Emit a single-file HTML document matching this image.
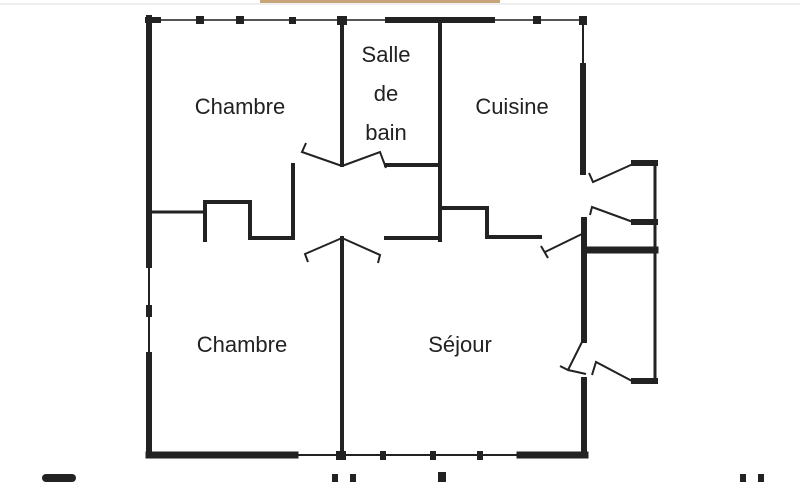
<!DOCTYPE html>
<html><head><meta charset="utf-8"><style>
body{margin:0;background:#fff;width:800px;height:482px;overflow:hidden}
svg{display:block}
text{font-family:"Liberation Sans",sans-serif;fill:#222;font-size:22px;text-anchor:middle}
</style></head><body>
<svg width="800" height="482" viewBox="0 0 800 482">
<rect x="260" y="0" width="240" height="3" fill="#c9a47a"/>
<line x1="0" y1="4" x2="800" y2="4" stroke="#ddd" stroke-width="1"/>
<g stroke="#222" fill="none" stroke-linecap="square">
<!-- top thin -->
<line x1="148" y1="20" x2="583" y2="20" stroke-width="2" stroke="#555"/>
<line x1="388" y1="20" x2="492" y2="20" stroke-width="6"/>
<line x1="148" y1="20" x2="158" y2="20" stroke-width="6"/>
<!-- left wall -->
<line x1="149" y1="18" x2="149" y2="265" stroke-width="6"/>
<line x1="149" y1="265" x2="149" y2="355" stroke-width="2"/>
<line x1="149" y1="355" x2="149" y2="455" stroke-width="6"/>
<!-- bottom -->
<line x1="149" y1="455" x2="295" y2="455" stroke-width="7"/>
<line x1="295" y1="455" x2="520" y2="455" stroke-width="2"/>
<line x1="520" y1="455" x2="585" y2="455" stroke-width="7"/>
<!-- cuisine right -->
<line x1="583" y1="20" x2="583" y2="66" stroke-width="2"/>
<line x1="583" y1="66" x2="583" y2="172" stroke-width="6"/>
<!-- sejour right -->
<line x1="584" y1="220" x2="584" y2="340" stroke-width="6"/>
<line x1="584" y1="380" x2="584" y2="455" stroke-width="6"/>
<!-- closet -->
<polyline points="634,163 655,163 655,381 634,381" stroke-width="3"/>
<line x1="634" y1="163" x2="655" y2="163" stroke-width="6"/>
<line x1="634" y1="222" x2="655" y2="222" stroke-width="6"/>
<line x1="588" y1="250" x2="655" y2="250" stroke-width="7"/>
<line x1="634" y1="381" x2="655" y2="381" stroke-width="6"/>
<!-- interior -->
<line x1="342" y1="20" x2="342" y2="165" stroke-width="4"/>
<line x1="342" y1="238" x2="342" y2="455" stroke-width="4"/>
<line x1="440" y1="20" x2="440" y2="240" stroke-width="4"/>
<line x1="386" y1="165" x2="440" y2="165" stroke-width="4"/>
<line x1="386" y1="238" x2="440" y2="238" stroke-width="4"/>
<line x1="293" y1="165" x2="293" y2="238" stroke-width="4"/>
<polyline points="150,212 205,212 205,238 M" stroke-width="3"/>
<polyline points="150,212 205,212" stroke-width="3"/>
<polyline points="205,240 205,202 250,202 250,238 293,238" stroke-width="4"/>
<polyline points="440,208 487,208 487,237 540,237" stroke-width="4"/>
</g>
<!-- window blocks -->
<g fill="#222">
<rect x="196" y="16" width="8" height="8"/><rect x="236" y="16" width="8" height="8"/>
<rect x="289" y="17" width="7" height="7"/><rect x="337" y="16" width="10" height="9"/>
<rect x="533" y="16" width="8" height="8"/><rect x="579" y="16" width="8" height="9"/>
<rect x="146" y="305" width="6" height="12"/>
<rect x="336" y="451" width="10" height="9"/><rect x="380" y="451" width="6" height="9"/>
<rect x="430" y="451" width="6" height="9"/><rect x="477" y="451" width="6" height="9"/>
<!-- bottom partial text -->
<rect x="42" y="474" width="34" height="8" rx="4"/>
<rect x="332" y="474" width="6" height="8"/><rect x="350" y="474" width="6" height="8"/>
<rect x="438" y="472" width="8" height="10"/>
<rect x="740" y="474" width="6" height="8"/><rect x="758" y="474" width="6" height="8"/>
</g>
<!-- doors -->
<g stroke="#222" stroke-width="2" fill="none">
<polyline points="342,166 302,152 306,143"/>
<polyline points="342,166 380,152 386,168"/>
<polyline points="342,238 305,254 308,262"/>
<polyline points="342,238 380,255 378,263"/>
<polyline points="633,164 593,182 589,173"/>
<polyline points="633,222 592,207 590,215"/>
<polyline points="584,233 545,252"/><line x1="541" y1="246" x2="548" y2="258"/>
<polyline points="582,342 568,370 560,366"/><line x1="568" y1="370" x2="586" y2="374"/>
<polyline points="632,381 596,362 592,375"/>
</g>
<text x="240" y="114">Chambre</text>
<text x="386" y="62">Salle</text>
<text x="386" y="101">de</text>
<text x="386" y="140">bain</text>
<text x="512" y="114">Cuisine</text>
<text x="242" y="352">Chambre</text>
<text x="460" y="352">Séjour</text>
</svg>
</body></html>
